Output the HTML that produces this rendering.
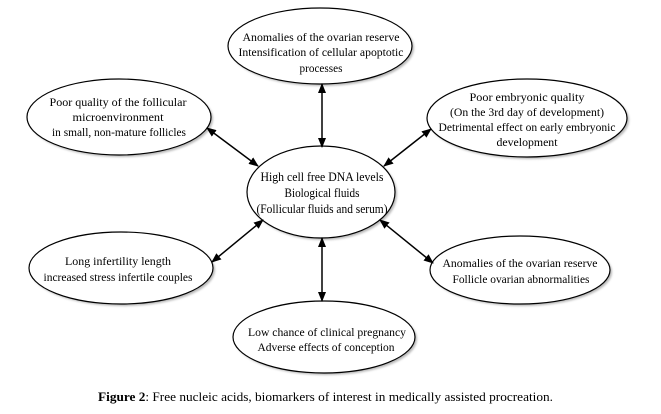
<!DOCTYPE html>
<html><head><meta charset="utf-8"><style>
html,body{margin:0;padding:0;background:#fff;}
svg{display:block;}
text{font-family:"Liberation Serif",serif;fill:#000;}
</style></head><body>
<svg width="661" height="414" viewBox="0 0 661 414" xmlns="http://www.w3.org/2000/svg">
<defs>
<marker id="ah" markerWidth="10" markerHeight="8" refX="9" refY="4" orient="auto-start-reverse" markerUnits="userSpaceOnUse">
<path d="M0,0 L10,4 L0,8 z" fill="#000"/>
</marker>
<filter id="sh" x="-10%" y="-10%" width="130%" height="130%"><feGaussianBlur stdDeviation="1"/></filter>
</defs>
<g fill="#999" filter="url(#sh)" opacity="0.7">
<ellipse cx="322" cy="48" rx="92" ry="38"/>
<ellipse cx="121" cy="119" rx="92" ry="38"/>
<ellipse cx="529" cy="120" rx="100" ry="39"/>
<ellipse cx="323" cy="194" rx="74" ry="46"/>
<ellipse cx="123" cy="270" rx="92" ry="36"/>
<ellipse cx="522" cy="272" rx="90" ry="34"/>
<ellipse cx="326" cy="339" rx="91" ry="36"/>
</g>
<g fill="#fff" stroke="#000" stroke-width="1.2">
<ellipse cx="320" cy="46" rx="92" ry="38"/>
<ellipse cx="119" cy="117" rx="92" ry="38"/>
<ellipse cx="527" cy="118" rx="100" ry="39"/>
<ellipse cx="321" cy="192" rx="74" ry="46"/>
<ellipse cx="121" cy="268" rx="92" ry="36"/>
<ellipse cx="520" cy="270" rx="90" ry="34"/>
<ellipse cx="324" cy="337" rx="91" ry="36"/>
</g>
<g stroke="#000" stroke-width="1.5" marker-start="url(#ah)" marker-end="url(#ah)">
<line x1="322" y1="84" x2="322" y2="147"/>
<line x1="207" y1="128" x2="258" y2="166"/>
<line x1="384" y1="166" x2="431" y2="129"/>
<line x1="212" y1="262" x2="263" y2="220"/>
<line x1="380" y1="220" x2="433" y2="263"/>
<line x1="322" y1="238" x2="322" y2="301"/>
</g>
<g font-size="11.5" text-anchor="middle" lengthAdjust="spacingAndGlyphs">
<text x="321" y="41" textLength="157" lengthAdjust="spacingAndGlyphs">Anomalies of the ovarian reserve</text>
<text x="321" y="56" textLength="165" lengthAdjust="spacingAndGlyphs">Intensification of cellular apoptotic</text>
<text x="321" y="72" textLength="43" lengthAdjust="spacingAndGlyphs">processes</text>

<text x="118" y="106" textLength="137" lengthAdjust="spacingAndGlyphs">Poor quality of the follicular</text>
<text x="118" y="121" textLength="91" lengthAdjust="spacingAndGlyphs">microenvironment</text>
<text x="119" y="136" textLength="134" lengthAdjust="spacingAndGlyphs">in small, non-mature follicles</text>

<text x="527" y="101" textLength="115" lengthAdjust="spacingAndGlyphs">Poor embryonic quality</text>
<text x="527" y="116" textLength="154" lengthAdjust="spacingAndGlyphs">(On the 3rd day of development)</text>
<text x="527" y="131" textLength="177" lengthAdjust="spacingAndGlyphs">Detrimental effect on early embryonic</text>
<text x="527" y="146" textLength="61" lengthAdjust="spacingAndGlyphs">development</text>

<text x="118" y="265" textLength="106" lengthAdjust="spacingAndGlyphs">Long infertility length</text>
<text x="118" y="281" textLength="149" lengthAdjust="spacingAndGlyphs">increased stress infertile couples</text>

<text x="520" y="267" textLength="155" lengthAdjust="spacingAndGlyphs">Anomalies of the ovarian reserve</text>
<text x="521" y="283" textLength="137" lengthAdjust="spacingAndGlyphs">Follicle ovarian abnormalities</text>

<text x="327" y="336" textLength="158" lengthAdjust="spacingAndGlyphs">Low chance of clinical pregnancy</text>
<text x="326" y="351" textLength="137" lengthAdjust="spacingAndGlyphs">Adverse effects of conception</text>
</g>
<g font-size="12.5" text-anchor="middle">
<text x="322" y="181" textLength="123" lengthAdjust="spacingAndGlyphs">High cell free DNA levels</text>
<text x="322" y="197" textLength="75" lengthAdjust="spacingAndGlyphs">Biological fluids</text>
<text x="322" y="213" textLength="131" lengthAdjust="spacingAndGlyphs">(Follicular fluids and serum)</text>
</g>
<text x="98" y="401" font-size="13" textLength="455" lengthAdjust="spacingAndGlyphs"><tspan font-weight="bold">Figure 2</tspan>: Free nucleic acids, biomarkers of interest in medically assisted procreation.</text>
</svg>
</body></html>
